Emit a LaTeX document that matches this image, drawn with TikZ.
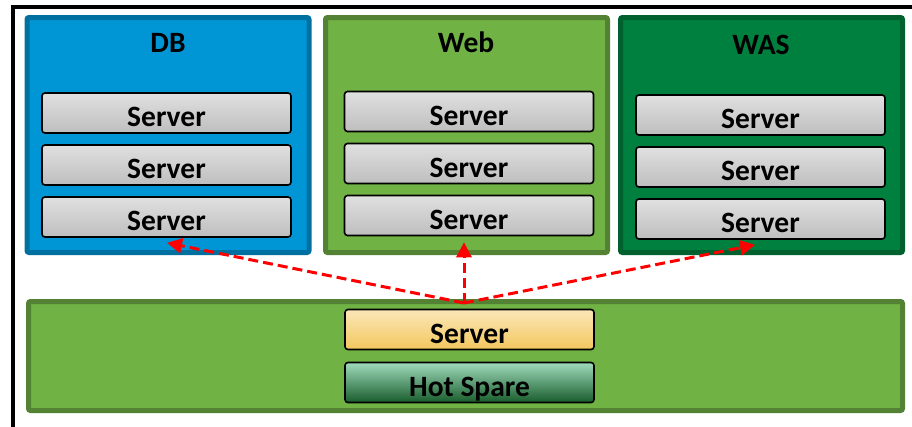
\documentclass[tikz,border=0pt]{standalone}
\usepackage{fontspec}
\setmainfont{Carlito}
\usetikzlibrary{arrows.meta}

\definecolor{dbblue}{RGB}{0,150,214}
\definecolor{dbedge}{RGB}{0,112,160}
\definecolor{webgreen}{RGB}{112,178,68}
\definecolor{webedge}{RGB}{84,130,53}
\definecolor{wasgreen}{RGB}{0,128,62}
\definecolor{wasedge}{RGB}{0,96,46}
\definecolor{srvtop}{RGB}{224,224,224}
\definecolor{srvbot}{RGB}{190,190,190}
\definecolor{acttop}{RGB}{251,231,184}
\definecolor{actbot}{RGB}{242,199,94}
\definecolor{hottop}{RGB}{160,220,188}
\definecolor{hotbot}{RGB}{24,92,44}

\begin{document}
\begin{tikzpicture}[x=1pt, y=-1pt,
  font=\fontsize{29.5}{31}\selectfont\bfseries,
  group/.style={draw, line width=5pt, rounded corners=2pt,
    minimum width=282pt, minimum height=235pt, inner sep=0pt},
  server/.style={draw, line width=1.6pt, rounded corners=3pt,
    minimum width=249pt, minimum height=40pt, inner sep=0pt,
    text height=31pt, text depth=4pt, top color=srvtop, bottom color=srvbot},
  title/.style={anchor=center},
  spare/.style={red, line width=3pt, dash pattern=on 10pt off 5pt,
    -{Triangle[length=15pt,width=15pt]}}]
\clip (0,0) rectangle (912,426);
\draw[line width=4pt] (13,7) rectangle (940,450);
% groups
\node (db) [group, fill=dbblue, draw=dbedge] at (168,135) {};
\node (web) [group, fill=webgreen, draw=webedge] at (466.5,135) {};
\node (was) [group, fill=wasgreen, draw=wasedge] at (761.5,135) {};
\node (pool) [group, fill=webgreen, draw=webedge, minimum width=874pt,
  minimum height=109pt] at (465.5,356) {};
\node (db-t) [title] at (168,43) {DB};
\node (web-t) [title] at (466,42) {Web};
\node (was-t) [title] at (761,45) {WAS};
% servers
\foreach \g/\x/\y in {db/166.5/113, web/469/111.5, was/760.5/115}
  \foreach \i in {0,1,2}
    \node (\g-\i) [server] at (\x,\y+52*\i) {Server};
\node (act) [server, top color=acttop, bottom color=actbot] at (469.5,329.5) {Server};
\node (hot) [server, top color=hottop, bottom color=hotbot] at (469.5,382.5) {Hot Spare};
% failover
\coordinate (hub) at (464,303);
\draw[spare] (hub) -- ([shift={(0.5pt,-5pt)}]db-2.south);
\draw[spare] (hub) -- ([shift={(-5pt,-6pt)}]web-2.south);
\draw[spare] (hub) -- ([shift={(-5.5pt,-5pt)}]was-2.south);
\end{tikzpicture}
\end{document}
